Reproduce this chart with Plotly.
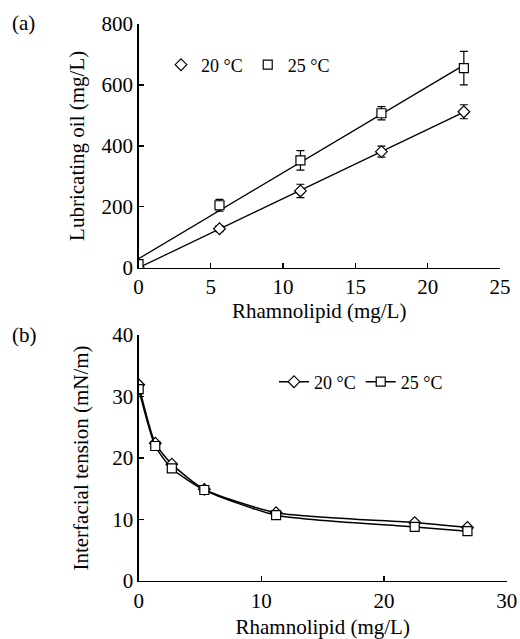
import numpy as np
import plotly.graph_objects as go

# ---------------- Data: panel (a) ----------------
a_x = [0, 5.6, 11.2, 16.8, 22.5]
a_20 = [0, 128, 252, 381, 512]
a_20_err = [4, 10, 22, 18, 23]
a_25 = [12, 205, 352, 507, 655]
a_25_err = [6, 19, 32, 22, 55]

# ---------------- Data: panel (b) ----------------
b_x = [0, 1.35, 2.7, 5.35, 11.2, 22.5, 26.8]
b_20 = [31.9, 22.4, 19.0, 14.9, 11.1, 9.5, 8.7]
b_25 = [31.2, 21.95, 18.3, 14.8, 10.7, 8.8, 8.1]

a_xticks = [0, 5, 10, 15, 20, 25]
a_yticks = [0, 200, 400, 600, 800]
b_xticks = [0, 10, 20, 30]
b_yticks = [0, 10, 20, 30, 40]

FONT = "Liberation Serif"
W, H = 520, 639

fig = go.Figure()

for ys in (a_20, a_25):
    k, c = np.polyfit(a_x, ys, 1)
    xs = np.array([a_x[0], a_x[-1]])
    fig.add_trace(go.Scatter(x=xs, y=k * xs + c, mode="lines",
                             line=dict(color="black", width=1.3),
                             showlegend=False, xaxis="x", yaxis="y",
                             hoverinfo="skip"))

fig.add_trace(go.Scatter(
    x=a_x, y=a_20, mode="markers", name="20 °C",
    marker=dict(symbol="diamond", size=9, color="white",
                line=dict(color="black", width=1.2)),
    error_y=dict(type="data", array=a_20_err, color="black", thickness=1.2, width=4),
    xaxis="x", yaxis="y", legend="legend"))
fig.add_trace(go.Scatter(
    x=a_x, y=a_25, mode="markers", name="25 °C",
    marker=dict(symbol="square", size=9, color="white",
                line=dict(color="black", width=1.2)),
    error_y=dict(type="data", array=a_25_err, color="black", thickness=1.2, width=4),
    xaxis="x", yaxis="y", legend="legend"))

fig.add_trace(go.Scatter(
    x=b_x, y=b_20, mode="lines+markers", name="20 °C",
    line=dict(color="black", width=1.5, shape="spline", smoothing=0.6),
    marker=dict(symbol="diamond", size=9, color="white",
                line=dict(color="black", width=1.2)),
    xaxis="x2", yaxis="y2", legend="legend2"))
fig.add_trace(go.Scatter(
    x=b_x, y=b_25, mode="lines+markers", name="25 °C",
    line=dict(color="black", width=1.5, shape="spline", smoothing=0.6),
    marker=dict(symbol="square", size=9, color="white",
                line=dict(color="black", width=1.2)),
    xaxis="x2", yaxis="y2", legend="legend2"))

def px_x(p):
    return p / W

def px_y(p):
    return 1 - p / H

def tfont(size=21):
    return dict(family=FONT, size=size, color="black")

def axis(domain, rng, ticks, anchor, title, standoff):
    return dict(domain=domain, range=rng, tickmode="array", tickvals=ticks,
                anchor=anchor,
                title=dict(text=title, standoff=standoff, font=tfont()),
                tickfont=tfont(), automargin=False,
                showline=True, linecolor="black", linewidth=1.3,
                ticks="inside", ticklen=5, tickwidth=1.3, tickcolor="black",
                showgrid=False, zeroline=False, mirror=False)

fig.update_layout(
    template="none",
    width=W, height=H,
    margin=dict(l=0, r=0, t=0, b=0, pad=0),
    paper_bgcolor="white", plot_bgcolor="white",
    font=tfont(),
    xaxis=axis([px_x(138.5), px_x(500)], [0, 25], a_xticks, "y", "Rhamnolipid (mg/L)", 4),
    yaxis=axis([px_y(267.7), px_y(24)], [0, 800], a_yticks, "x", "Lubricating oil (mg/L)", 11),
    xaxis2=axis([px_x(138.7), px_x(506.7)], [0, 30], b_xticks, "y2", "Rhamnolipid (mg/L)", 9),
    yaxis2=axis([px_y(581), px_y(335)], [0, 40], b_yticks, "x2", "Interfacial tension (mN/m)", 18),
    legend=dict(x=px_x(161), y=px_y(65), xanchor="left", yanchor="middle",
                orientation="h", itemwidth=30, bgcolor="rgba(0,0,0,0)",
                font=tfont(18)),
    legend2=dict(x=px_x(274), y=px_y(382), xanchor="left", yanchor="middle",
                 orientation="h", itemwidth=30, bgcolor="rgba(0,0,0,0)",
                 font=tfont(18)),
    annotations=[
        dict(text="(a)", x=px_x(10), y=px_y(23), xref="paper", yref="paper",
             xanchor="left", yanchor="middle", showarrow=False, font=tfont()),
        dict(text="(b)", x=px_x(10), y=px_y(335), xref="paper", yref="paper",
             xanchor="left", yanchor="middle", showarrow=False, font=tfont()),
    ],
)

# page body margin off, so the 520x639 figure fills the window exactly;
# make sure every SVG text uses the serif face
post = """
document.body.style.margin = '0';
document.body.style.padding = '0';
var fixFonts = function(){
  document.querySelectorAll('svg text').forEach(function(t){
    t.style.fontFamily = "'Liberation Serif', 'Times New Roman', serif";
  });
};
fixFonts();
var gd = document.getElementById('{plot_id}');
if (gd && gd.on) { gd.on('plotly_afterplot', fixFonts); }
"""

fig.write_html("out.html", post_script=post,
               config={"displayModeBar": False, "staticPlot": True})
